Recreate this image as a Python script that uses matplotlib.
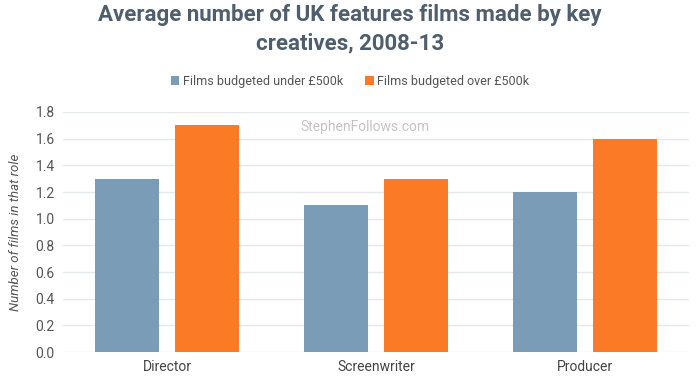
import matplotlib
matplotlib.use("Agg")
import matplotlib.pyplot as plt
import numpy as np

categories = ["Director", "Screenwriter", "Producer"]
under_500k = [1.3, 1.1, 1.2]
over_500k = [1.7, 1.3, 1.6]
series_names = ["Films budgeted under £500k", "Films budgeted over £500k"]
yticks = [0.0, 0.2, 0.4, 0.6, 0.8, 1.0, 1.2, 1.4, 1.6, 1.8]

plt.rcParams['font.family'] = ['Roboto', 'DejaVu Sans']

fig = plt.figure(figsize=(7, 3.81), dpi=100)
ax = fig.add_axes([63/700, 1 - 352/381, (689-63)/700, (352-112)/381])

x = np.arange(len(categories))
w = 0.307
off = 0.192
blue = "#7a9cb7"
orange = "#fb7a25"
ax.bar(x - off, under_500k, w, color=blue, label=series_names[0], zorder=3)
ax.bar(x + off, over_500k, w, color=orange, label=series_names[1], zorder=3)

ax.set_xlim(-0.5, 2.5)
ax.set_ylim(0, 1.8)
ax.set_yticks(yticks)
ax.set_yticklabels([f"{v:.1f}" for v in yticks], fontsize=10, color="#555555")
ax.set_xticks(x)
ax.set_xticklabels(categories, fontsize=10, color="#444444")
ax.tick_params(length=0, pad=6)
ax.grid(axis='y', color="#e3e7ee", linewidth=1, zorder=0)
for s in ax.spines.values():
    s.set_visible(False)
ax.set_ylabel("Number of films in that role", fontsize=9.5, style='italic', color="#555555", labelpad=10)

fig.text(0.5, 1 - 29/381, "Average number of UK features films made by key\ncreatives, 2008-13",
         ha='center', va='center', fontsize=16, fontweight='bold', color="#4f5e6d", linespacing=1.38)
fig.text(300/700, 1 - 127/381, "StephenFollows.com", fontsize=10, color="#c4c4c4", va='center', ha='left')

fig.legend(loc='center', bbox_to_anchor=(0.5, 1 - 81/381), ncol=2, frameon=False,
           fontsize=9, handlelength=0.7, handleheight=0.7, columnspacing=1.8, handletextpad=0.25,
           labelcolor="#555555")

fig.savefig("out.png", dpi=100)
